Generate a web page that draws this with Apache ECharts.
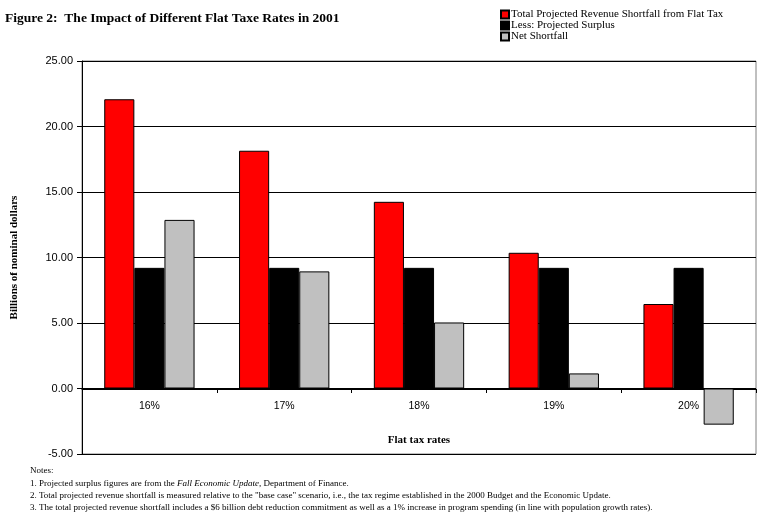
<!DOCTYPE html>
<html><head><meta charset="utf-8">
<script src="https://cdn.jsdelivr.net/npm/echarts@6/dist/echarts.min.js"></script>
<style>html,body{margin:0;padding:0;background:#fff}#c{width:772px;height:528px}</style>
</head><body><div id="c"></div>
<script>
const categories = ['16%', '17%', '18%', '19%', '20%'];
const totalShortfall = [22.08, 18.15, 14.25, 10.36, 6.45];
const projectedSurplus = [9.21, 9.21, 9.21, 9.21, 9.21];
const netShortfall = [12.87, 8.94, 5.04, 1.15, -2.76];
const seriesNames = ['Total Projected Revenue Shortfall from Flat Tax', 'Less: Projected Surplus', 'Net Shortfall'];
const yTicks = { min: -5, max: 25, interval: 5 };

const F = '"Liberation Serif", "DejaVu Serif", serif';
const S = '"Liberation Sans", "DejaVu Sans", sans-serif';
const chart = echarts.init(document.getElementById('c'));
chart.setOption({
  animation: false,
  backgroundColor: '#fff',
  title: {
    text: 'Figure 2:  The Impact of Different Flat Taxe Rates in 2001',
    left: 0, top: 7,
    textStyle: { fontFamily: F, fontSize: 13.5, fontWeight: 'bold', color: '#000' }
  },
  legend: {
    orient: 'vertical', left: 495, top: 4,
    itemWidth: 8, itemHeight: 8, itemGap: 0,
    icon: 'rect',
    textStyle: { fontFamily: F, fontSize: 11, lineHeight: 11, color: '#000', padding: [0, 0, 0, -3] },
    data: seriesNames
  },
  grid: { left: 82, right: 16, top: 61, bottom: 74, show: true, borderColor: '#808080', borderWidth: 1 },
  xAxis: {
    type: 'category', data: categories,
    offset: -65,
    name: 'Flat tax rates', nameLocation: 'middle', nameGap: 46,
    nameTextStyle: { fontFamily: F, fontSize: 11, fontWeight: 'bold', color: '#000' },
    axisLine: { onZero: false, lineStyle: { color: '#000' } },
    axisTick: { show: true, length: 4, lineStyle: { color: '#000' } },
    axisLabel: { fontFamily: S, fontSize: 10.5, color: '#000', margin: 12 },
    position: 'bottom'
  },
  yAxis: {
    type: 'value', min: yTicks.min, max: yTicks.max, interval: yTicks.interval,
    name: 'Billions of nominal dollars', nameLocation: 'middle', nameGap: 62, nameRotate: 90,
    nameTextStyle: { fontFamily: F, fontSize: 11, fontWeight: 'bold', color: '#000' },
    axisLine: { show: true, lineStyle: { color: '#000' } },
    axisTick: { show: true, length: 5, lineStyle: { color: '#000' } },
    axisLabel: { fontFamily: S, fontSize: 11, color: '#000', margin: 9, formatter: v => v.toFixed(2) },
    splitLine: { show: true, lineStyle: { color: '#000', width: 1 } }
  },
  series: [
    { name: seriesNames[0], type: 'bar', data: totalShortfall, barGap: '0%', barCategoryGap: '33%',
      itemStyle: { color: '#FF0000', borderColor: '#000', borderWidth: 1 } },
    { name: seriesNames[1], type: 'bar', data: projectedSurplus,
      itemStyle: { color: '#000000', borderColor: '#000', borderWidth: 1 } },
    { name: seriesNames[2], type: 'bar', data: netShortfall,
      itemStyle: { color: '#C0C0C0', borderColor: '#000', borderWidth: 1 } }
  ],
  graphic: [
    { type: 'text', left: 30, top: 466, style: { text: 'Notes:', font: '9px ' + F, fill: '#000' } },
    { type: 'text', left: 30, top: 479, style: {
        text: '1. Projected surplus figures are from the {i|Fall Economic Update}, Department of Finance.',
        font: '9px ' + F, fill: '#000',
        rich: { i: { fontStyle: 'italic', fontFamily: F, fontSize: 9 } } } },
    { type: 'text', left: 30, top: 491, style: {
        text: '2. Total projected revenue shortfall is measured relative to the "base case" scenario, i.e., the tax regime established in the 2000 Budget and the Economic Update.',
        font: '9px ' + F, fill: '#000' } },
    { type: 'text', left: 30, top: 503, style: {
        text: '3. The total projected revenue shortfall includes a $6 billion debt reduction commitment as well as a 1% increase in program spending (in line with population growth rates).',
        font: '9px ' + F, fill: '#000' } }
  ]
});
</script></body></html>
